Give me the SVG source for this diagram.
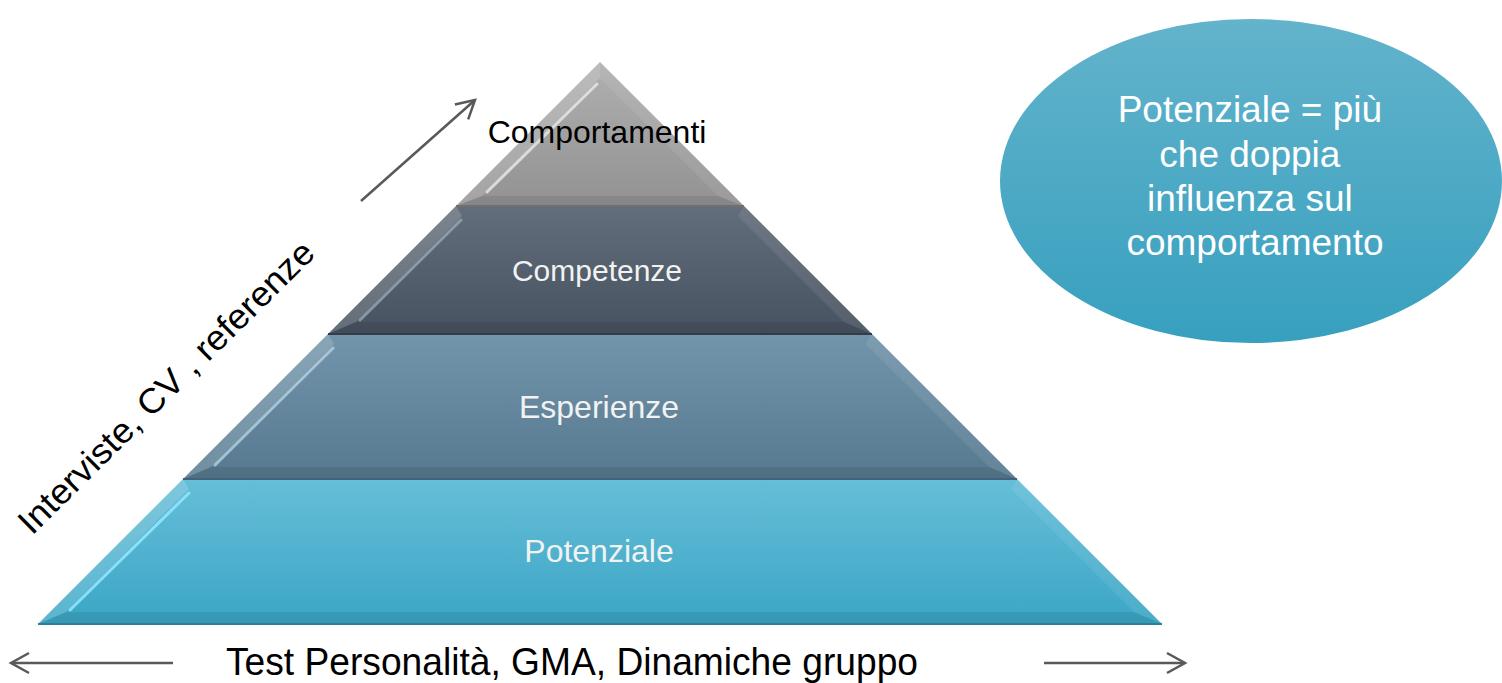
<svg xmlns="http://www.w3.org/2000/svg" width="1502" height="683" viewBox="0 0 1502 683">
<defs>
<linearGradient id="gTop" x1="0" y1="0" x2="0" y2="1"><stop offset="0" stop-color="#b0b0b0"/><stop offset="1" stop-color="#929292"/></linearGradient>
<linearGradient id="gComp" x1="0" y1="0" x2="0" y2="1"><stop offset="0" stop-color="#626e7b"/><stop offset="1" stop-color="#46525f"/></linearGradient>
<linearGradient id="gEsp" x1="0" y1="0" x2="0" y2="1"><stop offset="0" stop-color="#7395ab"/><stop offset="1" stop-color="#56798f"/></linearGradient>
<linearGradient id="gPot" x1="0" y1="0" x2="0" y2="1"><stop offset="0" stop-color="#66bed8"/><stop offset="1" stop-color="#3ba6c6"/></linearGradient>
<linearGradient id="gEll" x1="0" y1="0" x2="0" y2="1"><stop offset="0" stop-color="#63b3cb"/><stop offset="1" stop-color="#37a0bf"/></linearGradient>
<marker id="arr" markerUnits="userSpaceOnUse" markerWidth="26" markerHeight="26" refX="21" refY="12" orient="auto" overflow="visible">
<path d="M3,2 L21,12 L3,22" fill="none" stroke="#595959" stroke-width="2.5" stroke-linejoin="miter"/>
</marker>
<style>
.lbl{font-family:"Liberation Sans",Arial,sans-serif;text-anchor:middle;}
.w{fill:#f2f2f2;font-size:32px;}
.lt{fill:#ffffff;opacity:0.16;}
.rt{fill:#ffffff;opacity:0.08;}
.bt{fill:#000000;opacity:0.08;}
.hl{fill:none;stroke-linecap:round;stroke-width:3;}
.conn{fill:none;stroke:#595959;stroke-width:2.5;}
</style>
</defs>
<rect width="1502" height="683" fill="#ffffff"/>

<g id="layer-potenziale">
<polygon points="183,479 1017,479 1162,624 38,624" fill="url(#gPot)"/>
<polygon class="lt" points="183,479 189,489 66,612 38,624"/>
<polygon class="rt" points="1017,479 1162,624 1134,612 1011,489"/>
<polygon class="bt" points="38,624 66,612 1134,612 1162,624"/>
<line class="hl" x1="189" y1="493" x2="70" y2="610" stroke="#8fe6ff" stroke-opacity="0.9"/>
<line x1="38" y1="624" x2="1162" y2="624" stroke="#2b7f98" stroke-width="2"/>
<text class="lbl w" x="599" y="562">Potenziale</text>
</g>

<g id="layer-esperienze">
<polygon points="328,334 872,334 1017,479 183,479" fill="url(#gEsp)"/>
<polygon class="lt" points="328,334 334,344 211,467 183,479"/>
<polygon class="rt" points="872,334 1017,479 989,467 866,344"/>
<polygon class="bt" points="183,479 211,467 989,467 1017,479"/>
<line class="hl" x1="333" y1="348" x2="215" y2="465" stroke="#b5d2e4" stroke-opacity="0.8"/>
<line x1="183" y1="479" x2="1017" y2="479" stroke="#41627a" stroke-width="2"/>
<text class="lbl w" x="599" y="418">Esperienze</text>
</g>

<g id="layer-competenze">
<polygon points="456,206 744,206 872,334 328,334" fill="url(#gComp)"/>
<polygon class="lt" points="456,206 462,216 356,322 328,334"/>
<polygon class="rt" points="744,206 872,334 844,322 738,216"/>
<polygon class="bt" points="328,334 356,322 844,322 872,334"/>
<line class="hl" x1="461" y1="220" x2="360" y2="320" stroke="#9aa6b3" stroke-opacity="0.8"/>
<line x1="328" y1="334" x2="872" y2="334" stroke="#333d48" stroke-width="2"/>
<text class="lbl" x="597" y="281" font-size="30" fill="#f2f2f2">Competenze</text>
</g>

<g id="layer-comportamenti">
<polygon points="600,62 744,206 456,206" fill="url(#gTop)"/>
<polygon class="lt" points="600,62 600,78 482,196 456,206"/>
<polygon class="rt" points="600,62 744,206 718,196 600,78"/>
<polygon class="bt" points="456,206 482,196 718,196 744,206"/>
<line class="hl" x1="597" y1="84" x2="487" y2="192" stroke="#e6e6e6" stroke-opacity="0.85"/>
<line x1="456" y1="206" x2="744" y2="206" stroke="#6f6f6f" stroke-width="2"/>
<text class="lbl" x="597" y="143" font-size="32" fill="#000000">Comportamenti</text>
</g>

<g id="note-potenziale">
<ellipse cx="1251" cy="181" rx="251" ry="162" fill="url(#gEll)"/>
<text class="lbl" font-size="37" fill="#ffffff">
<tspan x="1255" y="122">Potenziale = più</tspan>
<tspan x="1255" y="167">che doppia</tspan>
<tspan x="1255" y="211">influenza sul</tspan>
<tspan x="1255" y="255">comportamento</tspan>
</text>
</g>

<g id="label-interviste">
<text transform="translate(32,536) rotate(-44.6)" x="0" y="0" font-family="Liberation Sans, Arial, sans-serif" font-size="35" fill="#000000" textLength="400" lengthAdjust="spacingAndGlyphs">Interviste, CV , referenze</text>
</g>

<g id="label-test">
<text x="226" y="675" font-family="Liberation Sans, Arial, sans-serif" font-size="39" fill="#000000" textLength="692" lengthAdjust="spacingAndGlyphs">Test Personalità, GMA, Dinamiche gruppo</text>
</g>

<g id="connectors">
<line class="conn" x1="361" y1="201" x2="475" y2="100" marker-end="url(#arr)"/>
<line class="conn" x1="173" y1="663" x2="11" y2="663" marker-end="url(#arr)"/>
<line class="conn" x1="1044" y1="663" x2="1185" y2="663" marker-end="url(#arr)"/>
</g>
</svg>
